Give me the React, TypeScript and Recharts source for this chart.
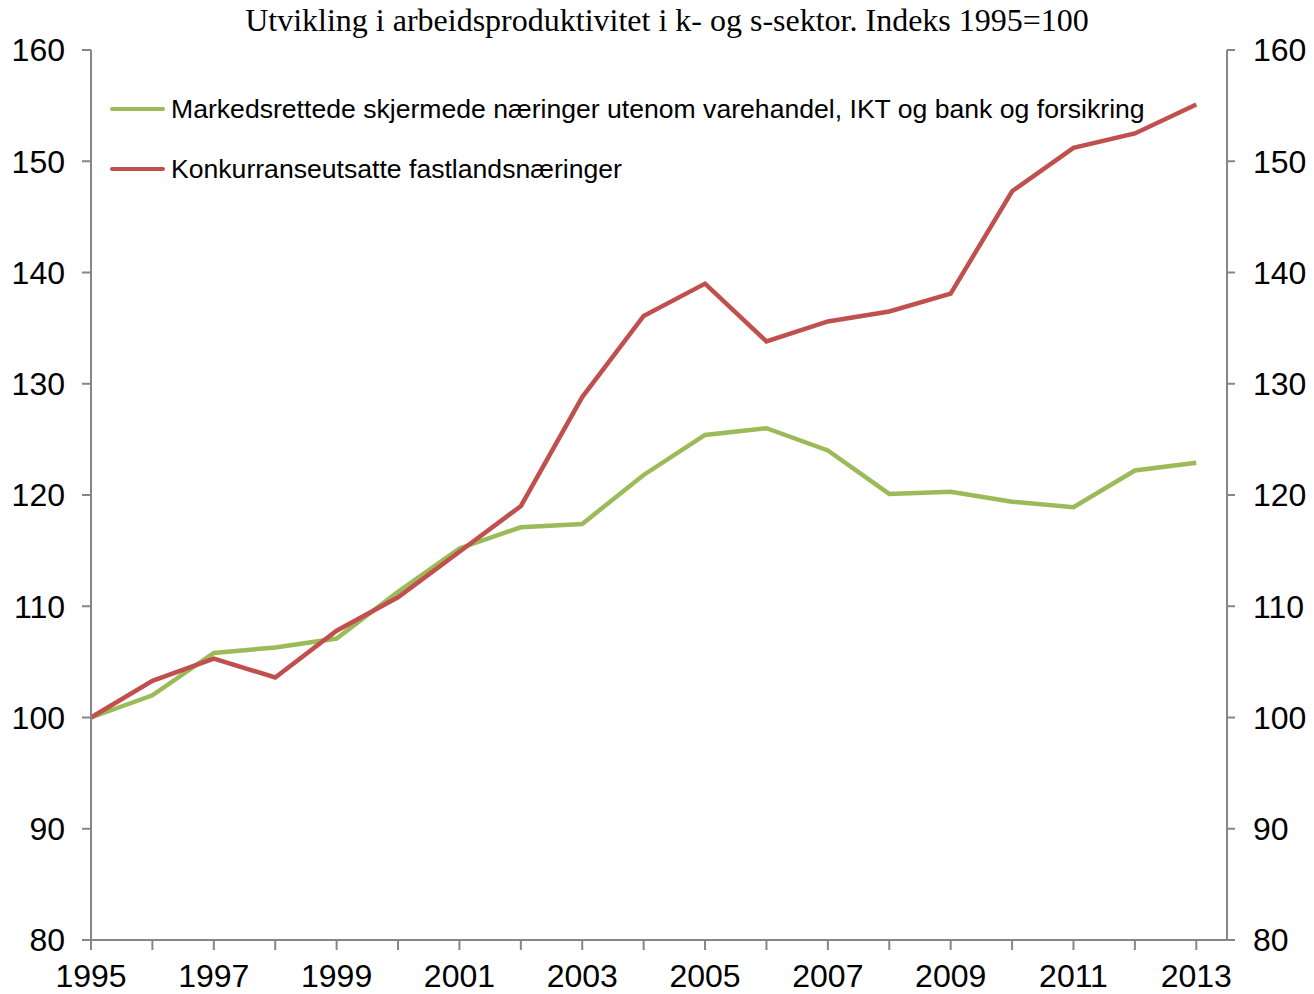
import React from 'react'
import { LineChart, Line, XAxis, YAxis } from 'recharts'

// years and index values (1995 = 100)
const years = [1995, 1996, 1997, 1998, 1999, 2000, 2001, 2002, 2003, 2004, 2005, 2006, 2007, 2008, 2009, 2010, 2011, 2012, 2013]
const skjermet = [100, 102.0, 105.8, 106.3, 107.1, 111.3, 115.2, 117.1, 117.4, 121.8, 125.4, 126.0, 124.0, 120.1, 120.3, 119.4, 118.9, 122.2, 122.9]
const konkurranse = [100, 103.3, 105.3, 103.6, 107.8, 110.8, 114.9, 119.0, 128.8, 136.1, 139.0, 133.8, 135.6, 136.5, 138.1, 147.3, 151.2, 152.5, 155.1]
const yTicks = [80, 90, 100, 110, 120, 130, 140, 150, 160]

const names = {
  skjermet: 'Markedsrettede skjermede næringer utenom varehandel, IKT og bank og forsikring',
  konkurranse: 'Konkurranseutsatte fastlandsnæringer',
}

const data = years.map((year, i) => ({ year, skjermet: skjermet[i], konkurranse: konkurranse[i] }))

const GREEN = '#9bbb59'
const RED = '#c0504d'
const AXIS = '#868686'
const FONT = '"Liberation Sans", Arial, sans-serif'

const tickStyle = { fill: '#000', fontSize: 32, fontFamily: FONT }

function ChartLegend() {
  const items = [
    { label: names.skjermet, color: GREEN },
    { label: names.konkurranse, color: RED },
  ]
  return (
    <div style={{ position: 'absolute', top: 79, left: 110, fontFamily: FONT, fontSize: 26.6, color: '#000', whiteSpace: 'nowrap' }}>
      {items.map(it => (
        <div key={it.label} style={{ display: 'flex', alignItems: 'center', height: 60 }}>
          <span style={{ display: 'inline-block', width: 55, height: 4, background: it.color, borderRadius: 2, marginRight: 6 }} />
          <span>{it.label}</span>
        </div>
      ))}
    </div>
  )
}

export default function App() {
  return (
    <div style={{ position: 'absolute', left: 0, top: 0, width: 1314, height: 994, background: '#fff' }}>
      <div style={{ position: 'absolute', top: 2, left: 0, width: 1334, textAlign: 'center', fontFamily: '"Liberation Serif", "Times New Roman", serif', fontSize: 32, color: '#000' }}>
        Utvikling i arbeidsproduktivitet i k- og s-sektor. Indeks 1995=100
      </div>
      <LineChart width={1314} height={994} data={data} margin={{ top: 50, right: 0, bottom: 0, left: 0 }}>
        <XAxis
          dataKey="year"
          type="number"
          domain={[1995, 2013.5]}
          ticks={years}
          interval={0}
          tickFormatter={(v: number) => ((v - 1995) % 2 === 0 ? String(v) : '')}
          height={54}
          stroke={AXIS}
          strokeWidth={2}
          tickSize={10}
          tickMargin={14}
          tick={tickStyle}
        />
        <YAxis
          yAxisId="left"
          domain={[80, 160]}
          ticks={yTicks}
          interval={0}
          width={91}
          stroke={AXIS}
          strokeWidth={2}
          tickSize={9}
          tickMargin={17}
          tick={tickStyle}
        />
        <YAxis
          yAxisId="right"
          orientation="right"
          domain={[80, 160]}
          ticks={yTicks}
          interval={0}
          width={87}
          stroke={AXIS}
          strokeWidth={2}
          tickSize={8}
          tickMargin={18}
          tick={tickStyle}
        />
        <Line yAxisId="left" type="linear" dataKey="skjermet" name={names.skjermet} stroke={GREEN} strokeWidth={4.5} dot={false} isAnimationActive={false} />
        <Line yAxisId="right" type="linear" dataKey="konkurranse" name={names.konkurranse} stroke={RED} strokeWidth={4.5} dot={false} isAnimationActive={false} />
      </LineChart>
      <ChartLegend />
    </div>
  )
}
